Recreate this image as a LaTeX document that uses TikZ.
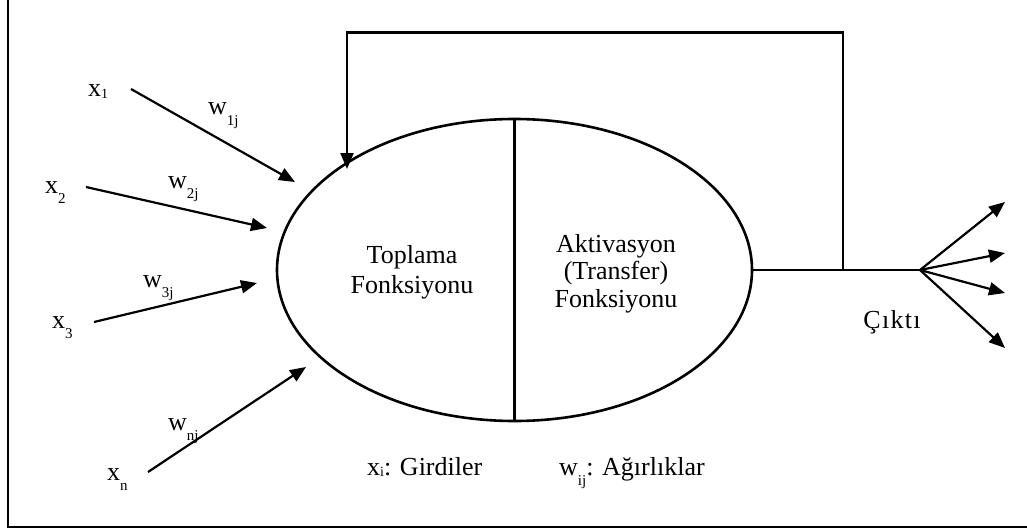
\documentclass[tikz,border=0pt]{standalone}
\usepackage{fontspec}
\setmainfont{Liberation Serif}
\usetikzlibrary{arrows.meta,shapes.geometric}
% variable with a lowered index, and with an index near the baseline
\newcommand\lowsub[2]{#1\raisebox{-0.4em}{\fontsize{15}{15}\selectfont #2}}
\newcommand\smallsub[2]{#1\raisebox{-0.04em}{\fontsize{14}{14}\selectfont #2}}
\begin{document}
\begin{tikzpicture}[x=1pt,y=-1pt,
  lbl/.style={font=\fontsize{26}{30}\selectfont, inner sep=0pt},
  ln/.style={line width=2.2pt},
  arr/.style={ln, -{Triangle[length=16pt,width=13pt]}},
  neuron/.style={ellipse, draw, line width=2.6pt, minimum width=475pt, minimum height=302pt, inner sep=0pt, outer sep=0pt}]
\useasboundingbox (0,0) rectangle (1027,532);
% frame (left and bottom edges)
\draw[line width=2.2pt] (8,0) -- (8,527) -- (1027,527);

% neuron body
\node[neuron] (ell) at (514.5,270) {};
\draw[ln] (ell.north) -- (ell.south);
\node[lbl, align=center] (sum) at (412,272) {Toplama\\Fonksiyonu};
\node[lbl, align=center, font=\fontsize{26}{27.5}\selectfont] (act) at (616,273.5)
  {Aktivasyon\\(Transfer)\\Fonksiyonu};

% inputs and weights
\node[lbl, anchor=base west] (x1) at (88,97) {\smallsub{x}{1}};
\node[lbl, anchor=base west] (x2) at (45,193) {\lowsub{x}{2}};
\node[lbl, anchor=base west] (x3) at (52,328) {\lowsub{x}{3}};
\node[lbl, anchor=base west] (xn) at (107,480) {\lowsub{x}{n}};
\node[lbl, anchor=base west] (w1) at (208,115) {\lowsub{w}{1j}};
\node[lbl, anchor=base west] (w2) at (168,188) {\lowsub{w}{2j}};
\node[lbl, anchor=base west] (w3) at (143,287) {\lowsub{w}{3j}};
\node[lbl, anchor=base west] (wn) at (168,430) {\lowsub{w}{nj}};

\coordinate (s1) at (131,89);  \coordinate (t1) at (295,182);
\coordinate (s2) at (86,187);  \coordinate (t2) at (267,228);
\coordinate (s3) at (94,322);  \coordinate (t3) at (257,283);
\coordinate (sn) at (148,472); \coordinate (tn) at (306,367);
\draw[arr] (s1) -- (t1);
\draw[arr] (s2) -- (t2);
\draw[arr] (s3) -- (t3);
\draw[arr] (sn) -- (tn);

% output line and feedback loop
\coordinate (fb) at (843,270);
\coordinate (br) at (920,270);
\coordinate (fbin) at (347,169);
\draw[ln] (ell.east) -- (br);
\draw[arr] (fb) -- (843,32.5) -- (347,32.5) -- (fbin);

\coordinate (o1) at (1005,202);
\coordinate (o2) at (1005,253);
\coordinate (o3) at (1005,293);
\coordinate (o4) at (1005,348);
\draw[arr] (br) -- (o1);
\draw[arr] (br) -- (o2);
\draw[arr] (br) -- (o3);
\draw[arr] (br) -- (o4);
\node[lbl] (out) at (892,322) {\addfontfeature{LetterSpace=5}Çıktı};

% legend
\node[lbl, anchor=base west] (lx) at (367,475) {\smallsub{x}{i}: Girdiler};
\node[lbl, anchor=base west] (lw) at (559,475) {\lowsub{w}{ij}: Ağırlıklar};
\end{tikzpicture}
\end{document}
